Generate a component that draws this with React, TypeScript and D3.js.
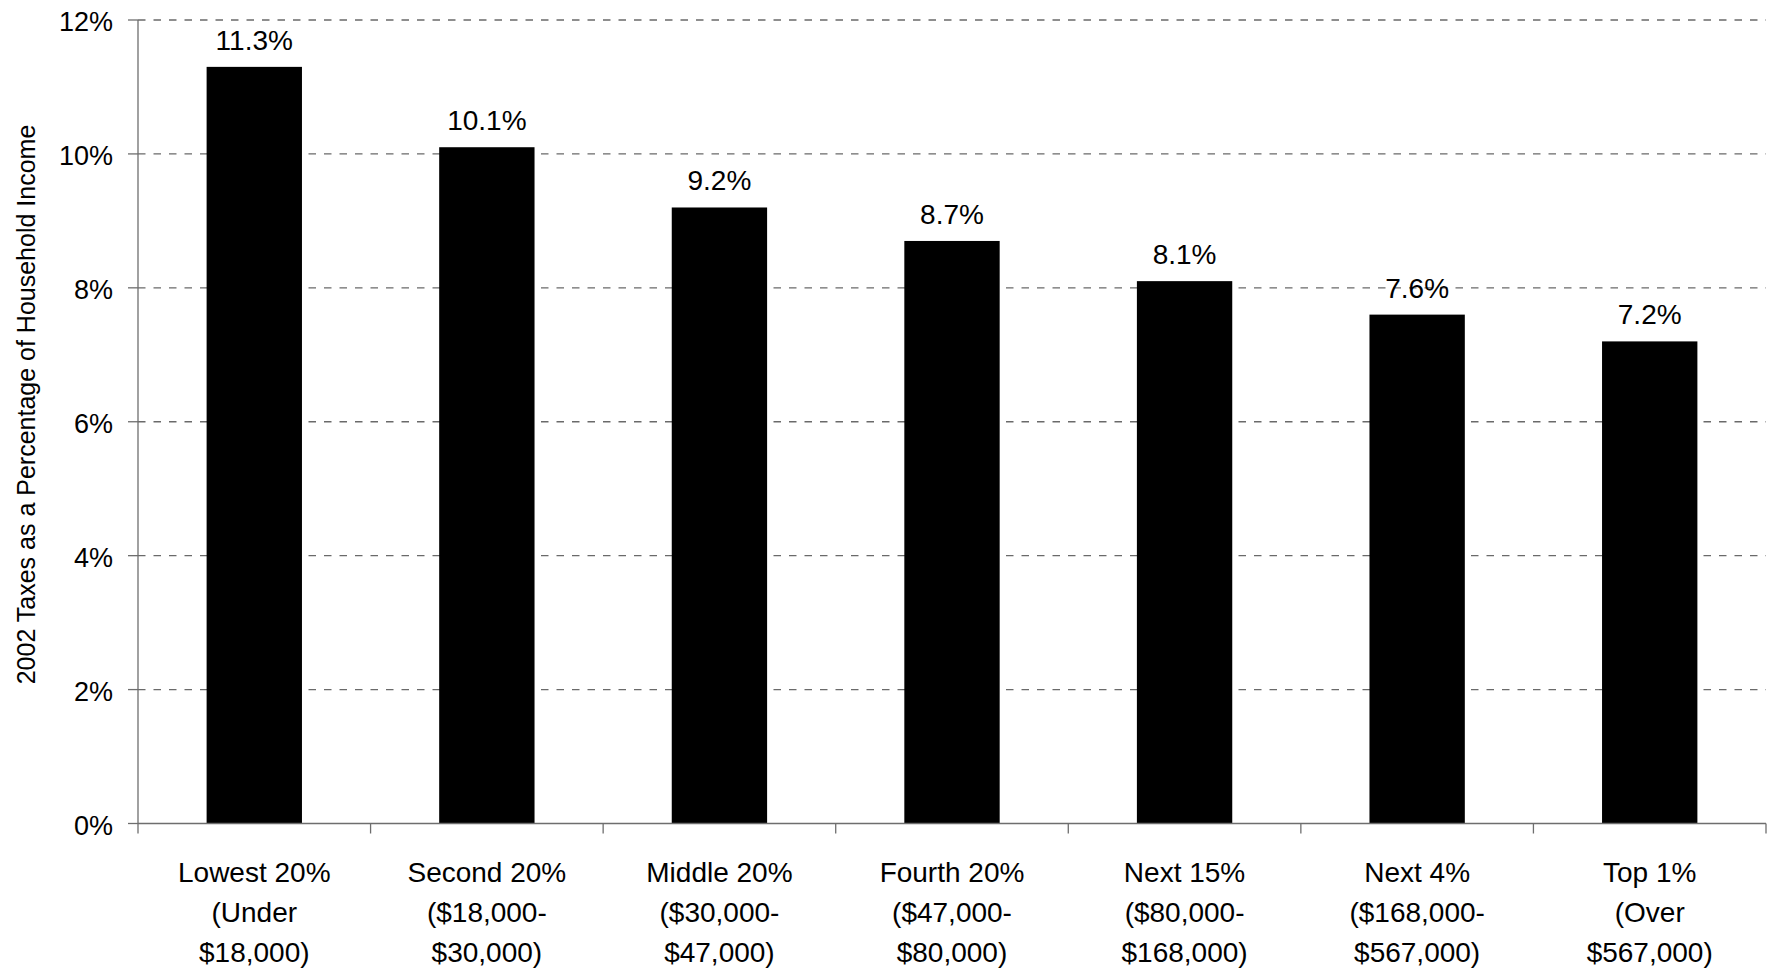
import React from "react";
import * as d3 from "d3";

const categories = [
  "Lowest 20%",
  "Second 20%",
  "Middle 20%",
  "Fourth 20%",
  "Next 15%",
  "Next 4%",
  "Top 1%",
];
const subLabels = [
  ["(Under", "$18,000)"],
  ["($18,000-", "$30,000)"],
  ["($30,000-", "$47,000)"],
  ["($47,000-", "$80,000)"],
  ["($80,000-", "$168,000)"],
  ["($168,000-", "$567,000)"],
  ["(Over", "$567,000)"],
];
const values = [11.3, 10.1, 9.2, 8.7, 8.1, 7.6, 7.2];
const yTicks = [0, 2, 4, 6, 8, 10, 12];
const yTitle = "2002 Taxes as a Percentage of Household Income";

const W = 1769;
const H = 971;
const FONT = "'Liberation Sans Narrow', 'Arial Narrow', 'Liberation Sans', sans-serif";

export default function App() {
  const left = 138;
  const right = 1766;
  const top = 20;
  const bottom = 823.5;
  const x = d3.scaleBand<string>().domain(categories).range([left, right]).paddingInner(0.59).paddingOuter(0.295);
  const xb = d3.scaleBand<string>().domain(categories).range([left, right]);
  const y = d3.scaleLinear().domain([0, 12]).range([bottom, top]);
  const axisColor = "#6e6e6e";
  const gridColor = "#6a6a6a";

  return (
    <svg width={W} height={H} style={{ position: "absolute", left: 0, top: 0, background: "#fff" }} fontFamily={FONT}>
      {/* gridlines */}
      {yTicks.filter((t) => t > 0).map((t) => (
        <line key={"g" + t} x1={left} x2={right} y1={y(t)} y2={y(t)} stroke={gridColor} strokeWidth={1.4} strokeDasharray="7.5,8" />
      ))}
      {/* bars */}
      {categories.map((c, i) => (
        <rect key={c} x={x(c)} y={y(values[i])} width={x.bandwidth()} height={bottom - y(values[i])} fill="#000" />
      ))}
      {/* value labels */}
      {categories.map((c, i) => (
        <text key={"v" + c} x={(x(c) as number) + x.bandwidth() / 2} y={y(values[i]) - 17} textAnchor="middle" fontSize={28} fill="#000">
          {values[i].toFixed(1) + "%"}
        </text>
      ))}
      {/* y axis */}
      <line x1={left} x2={left} y1={top} y2={bottom} stroke={axisColor} strokeWidth={1.3} />
      {yTicks.map((t) => (
        <g key={"t" + t}>
          <line x1={left - 10} x2={left} y1={y(t)} y2={y(t)} stroke={axisColor} strokeWidth={1.3} />
          <text x={113} y={y(t) + 11} textAnchor="end" fontSize={27} fill="#000">
            {t + "%"}
          </text>
        </g>
      ))}
      {/* x axis */}
      <line x1={left} x2={right} y1={bottom} y2={bottom} stroke={axisColor} strokeWidth={1.3} />
      {categories.map((c) => (
        <line key={"xt" + c} x1={(xb(c) as number)} x2={(xb(c) as number)} y1={bottom} y2={bottom + 10} stroke={axisColor} strokeWidth={1.3} />
      ))}
      <line x1={right} x2={right} y1={bottom} y2={bottom + 10} stroke={axisColor} strokeWidth={1.3} />
      {categories.map((c, i) => {
        const cx = (xb(c) as number) + xb.bandwidth() / 2;
        return (
          <text key={"l" + c} x={cx} textAnchor="middle" fontSize={28} fill="#000">
            <tspan x={cx} y={881.7}>{c}</tspan>
            <tspan x={cx} y={921.7}>{subLabels[i][0]}</tspan>
            <tspan x={cx} y={961.7}>{subLabels[i][1]}</tspan>
          </text>
        );
      })}
      {/* y title */}
      <text transform={`translate(35, ${(126 + 683) / 2}) rotate(-90)`} textAnchor="middle" fontSize={25} fill="#000">
        {yTitle}
      </text>
    </svg>
  );
}
